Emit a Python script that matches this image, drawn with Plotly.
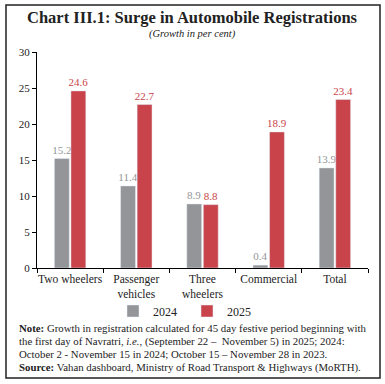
import plotly.graph_objects as go

categories = ["Two wheelers", "Passenger<br>vehicles", "Three<br>wheelers", "Commercial", "Total"]
growth_2024 = [15.2, 11.4, 8.9, 0.4, 13.9]
growth_2025 = [24.6, 22.7, 8.8, 18.9, 23.4]
y_ticks = [0, 5, 10, 15, 20, 25, 30]

GRAY = "#939598"
RED = "#C8434A"
FONT = "Liberation Serif"

W, H = 385, 384
L, R, T, B = 37, 17, 52, 116
pw, ph = W - L - R, H - T - B


def px(x):
    return (x - L) / pw


def py(y):
    return (H - B - y) / ph


fig = go.Figure()
fig.add_trace(go.Bar(
    x=categories, y=growth_2024, name="2024", marker_color=GRAY,
    texttemplate="%{y:.1f}", textposition="outside", constraintext="none",
    textfont=dict(family=FONT, size=11, color=GRAY), cliponaxis=False,
))
fig.add_trace(go.Bar(
    x=categories, y=growth_2025, name="2025", marker_color=RED,
    texttemplate="%{y:.1f}", textposition="outside", constraintext="none",
    textfont=dict(family=FONT, size=11, color=RED), cliponaxis=False,
))

annotations = [
    dict(text="<b>Chart III.1: Surge in Automobile Registrations</b>", x=px(192), y=py(18),
         font=dict(family=FONT, size=16.5, color="#222222")),
    dict(text="<i>(Growth in per cent)</i>", x=px(192), y=py(34),
         font=dict(family=FONT, size=10.5, color="#222222")),
]
note_lines = [
    "<b>Note:</b> Growth in registration calculated for 45 day festive period beginning with",
    "the first day of Navratri, <i>i.e.</i>, (September 22 –  November 5) in 2025; 2024:",
    "October 2 - November 15 in 2024; October 15 – November 28 in 2023.",
    "<b>Source:</b> Vahan dashboard, Ministry of Road Transport &amp; Highways (MoRTH).",
]
note_y = [328, 341, 354, 367]
for t, yy in zip(note_lines, note_y):
    annotations.append(dict(text=t, x=px(17), y=py(yy), xanchor="left",
                            font=dict(family=FONT, size=10.8, color="#222222")))
for a in annotations:
    a.update(xref="paper", yref="paper", showarrow=False, yanchor="middle")
    a.setdefault("xanchor", "center")

fig.update_layout(
    width=W, height=H,
    margin=dict(l=L, r=R, t=T, b=B, autoexpand=False),
    paper_bgcolor="white", plot_bgcolor="white",
    barmode="group", bargap=0.5, bargroupgap=0.1,
    font=dict(family=FONT, size=10, color="#222222"),
    showlegend=True,
    legend=dict(orientation="h", x=px(187), xanchor="center", y=py(311), yanchor="middle",
                font=dict(family=FONT, size=12, color="#222222"),
                bgcolor="rgba(0,0,0,0)", entrywidth=29),
    annotations=annotations,
    shapes=[dict(type="rect", xref="paper", yref="paper",
                 x0=px(6), x1=px(380), y0=py(378), y1=py(5),
                 line=dict(color="#222222", width=1.5))],
)
fig.update_yaxes(range=[0, 30], tickvals=y_ticks, showgrid=False, zeroline=False,
                 showline=True, linecolor="black", linewidth=1, automargin=False,
                 ticks="outside", ticklen=4, tickcolor="black",
                 tickfont=dict(family=FONT, size=11, color="#222222"))
fig.update_xaxes(showgrid=False, showline=True, linecolor="black", linewidth=1,
                 automargin=False, tickangle=0,
                 ticks="outside", tickson="boundaries", ticklen=4, tickcolor="black",
                 tickfont=dict(family=FONT, size=11.5, color="#222222"))

fig.write_html("out.html", config={"displayModeBar": False},
               post_script="document.body.style.margin='0px';")
